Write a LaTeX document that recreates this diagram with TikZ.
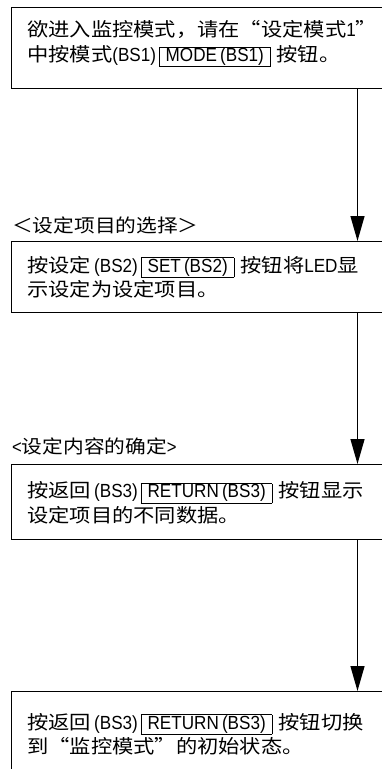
\documentclass[tikz,border=0pt]{standalone}
\usepackage{fontspec}
\usetikzlibrary{arrows.meta}
\setmainfont{Noto Sans CJK SC}[FakeStretch=1.12]
\newfontfamily\latf{Liberation Sans}[FakeStretch=0.9,Scale=1.0]
\newcommand\bs[1]{{\latf #1}}
\newcommand\kbox[1]{\hspace{3pt}{\fboxsep=0pt\fboxrule=0.7pt\fbox{\rule[-5pt]{0pt}{19pt}\hspace{6pt}{\latf #1}\hspace{6pt}}}\hspace{6pt}}
\tikzset{
  stepbox/.style={draw, line width=1.3pt, inner sep=0pt, anchor=north west},
  txt/.style={anchor=west, align=left, inner sep=0pt, font=\fontsize{19}{24.5}\selectfont},
  lbl/.style={anchor=west, inner sep=0pt, font=\fontsize{18.5}{24}\selectfont},
  arr/.style={line width=1.3pt, -{Triangle[length=25pt,width=14pt]}},
}
\begin{document}
\begin{tikzpicture}[x=1pt,y=-1pt]
\useasboundingbox (0,0) rectangle (382,769);
\clip (0,0) rectangle (382,769);
\coordinate (ax) at (357.5,0);
\node[stepbox, minimum width=400pt, minimum height=81pt] (b1) at (11,7) {};
\node[stepbox, minimum width=400pt, minimum height=71pt] (b2) at (11,241) {};
\node[stepbox, minimum width=400pt, minimum height=75pt] (b3) at (11,464) {};
\node[stepbox, minimum width=400pt, minimum height=120pt] (b4) at (11,691) {};
\node[txt] (t1) at (27,44) {欲进入监控模式，请在“设定模式\bs{1}”\\中按模式\bs{(BS1)}\kbox{MODE\,(BS1)}按钮。};
\node[txt] (t2) at (27,277) {按设定\,\bs{(BS2)}\kbox{SET\,(BS2)}按钮将\bs{LED}显\\示设定为设定项目。};
\node[txt] (t3) at (27,503) {按返回\,\bs{(BS3)}\kbox{RETURN\,(BS3)}按钮显示\\设定项目的不同数据。};
\node[txt] (t4) at (27,734) {按返回\,\bs{(BS3)}\kbox{RETURN\,(BS3)}按钮切换\\到“监控模式”的初始状态。};
\node[lbl] (l1) at (12,225) {＜设定项目的选择＞};
\node[lbl] (l2) at (12,446) {\bs{<}设定内容的确定\bs{>}};
\draw[arr] (b1.south -| ax) -- (b2.north -| ax);
\draw[arr] (b2.south -| ax) -- (b3.north -| ax);
\draw[arr] (b3.south -| ax) -- (b4.north -| ax);
\end{tikzpicture}
\end{document}
